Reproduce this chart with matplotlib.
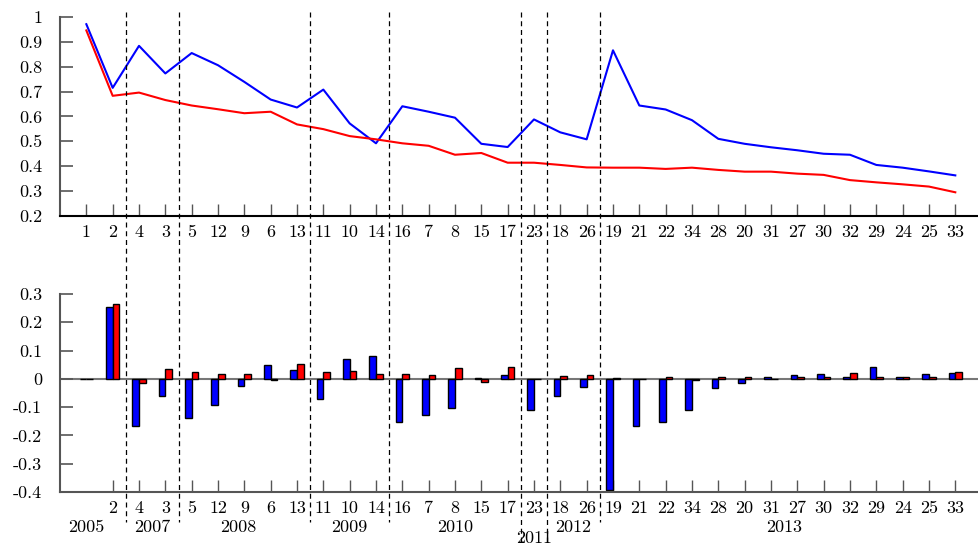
import matplotlib
matplotlib.use('Agg')
import matplotlib.pyplot as plt
import matplotlib.transforms as mtransforms
from matplotlib.lines import Line2D
import numpy as np

plt.rcParams['font.family'] = ['cmr10', 'DejaVu Serif']
plt.rcParams['axes.unicode_minus'] = False
plt.rcParams['axes.formatter.use_mathtext'] = True

# categories along the x axis
cats = ['1', '2', '4', '3', '5', '12', '9', '6', '13', '11', '10', '14', '16', '7', '8',
        '15', '17', '23', '18', '26', '19', '21', '22', '34', '28', '20', '31', '27',
        '30', '32', '29', '24', '25', '33']

# top panel lines
blue_line = [0.971, 0.715, 0.884, 0.773, 0.855, 0.806, 0.739, 0.668, 0.636, 0.708,
             0.572, 0.492, 0.641, 0.619, 0.595, 0.490, 0.477, 0.588, 0.536, 0.508,
             0.866, 0.644, 0.628, 0.585, 0.510, 0.490, 0.476, 0.464, 0.450, 0.446,
             0.405, 0.394, 0.379, 0.363]
red_line = [0.946, 0.683, 0.696, 0.666, 0.644, 0.629, 0.613, 0.619, 0.568, 0.549,
            0.521, 0.508, 0.492, 0.482, 0.446, 0.453, 0.414, 0.414, 0.405, 0.395,
            0.394, 0.394, 0.389, 0.394, 0.385, 0.378, 0.378, 0.370, 0.365, 0.344,
            0.335, 0.327, 0.318, 0.295]

# bottom panel bars
blue_bar = [0.0, 0.253, -0.168, -0.059, -0.140, -0.094, -0.024, 0.049, 0.033, -0.072,
            0.069, 0.080, -0.153, -0.129, -0.104, 0.002, 0.014, -0.111, -0.061, -0.029,
            -0.393, -0.168, -0.154, -0.111, -0.034, -0.015, 0.005, 0.012, 0.016, 0.006,
            0.041, 0.008, 0.016, 0.019]
red_bar = [0.0, 0.264, -0.015, 0.034, 0.024, 0.016, 0.016, -0.005, 0.051, 0.024,
           0.027, 0.016, 0.016, 0.013, 0.038, -0.012, 0.041, -0.002, 0.009, 0.013,
           0.002, 0.001, 0.005, -0.004, 0.008, 0.008, 0.001, 0.008, 0.008, 0.019,
           0.008, 0.008, 0.008, 0.026]

# year groups
years = ['2005', '2007', '2008', '2009', '2010', '2011', '2012', '2013']
year_pos = [0, 2.5, 5.75, 10, 14, 17, 18.5, 26.5]
year_low = [False, False, False, False, False, True, False, False]
separators = [1.5, 3.5, 8.5, 11.5, 16.5, 17.5, 19.5]
long_sep = [False, False, False, False, True, True, False]

x = np.arange(len(cats))

fig = plt.figure(figsize=(9.79, 5.48), dpi=100)
ax1 = fig.add_axes([0.0613, 0.606, 0.9387, 0.363])
ax2 = fig.add_axes([0.0613, 0.1022, 0.9387, 0.3613])

spine_col = '#555555'
fs = 13

# top panel
ax1.plot(x, blue_line, color='#0000ff', lw=1.5)
ax1.plot(x, red_line, color='#ff0000', lw=1.5)
ax1.set_xlim(-1, 33.9)
ax1.set_ylim(0.2, 1.0)
ax1.set_yticks(np.arange(0.2, 1.01, 0.1))
ax1.set_yticklabels(['0.2', '0.3', '0.4', '0.5', '0.6', '0.7', '0.8', '0.9', '1'])
ax1.set_xticks(x)
ax1.set_xticklabels(cats)

# bottom panel
w = 0.25
ax2.axhline(0, color='#777777', lw=1.5, zorder=1)
ax2.bar(x - w / 2, blue_bar, width=w, color='#0000ff', edgecolor='black', lw=1.0, zorder=2)
ax2.bar(x + w / 2, red_bar, width=w, color='#ff0000', edgecolor='black', lw=1.0, zorder=2)
ax2.set_xlim(-1, 33.9)
ax2.set_ylim(-0.4, 0.3)
ax2.set_yticks(np.arange(-0.4, 0.31, 0.1))
ax2.set_yticklabels(['-0.4', '-0.3', '-0.2', '-0.1', '0', '0.1', '0.2', '0.3'])
ax2.set_xticks(x[1:])
ax2.set_xticklabels(cats[1:])

for ax in (ax1, ax2):
    for s in ('top', 'right'):
        ax.spines[s].set_visible(False)
    ax.spines['left'].set_color(spine_col)
    ax.spines['left'].set_linewidth(1.5)
    ax.spines['bottom'].set_linewidth(1.5)
    ax.tick_params(axis='y', direction='in', length=9, width=1.2, color=spine_col,
                   labelsize=fs, pad=13)
    ax.tick_params(axis='x', direction='in', length=9, width=1.0, color=spine_col,
                   labelsize=fs, pad=6)
ax1.spines['bottom'].set_color('black')
ax2.spines['bottom'].set_color(spine_col)

# year labels under the bottom panel
trans_y = mtransforms.blended_transform_factory(ax2.transData, fig.transFigure)
for yr, p, low in zip(years, year_pos, year_low):
    ax2.text(p, 0.018 if low else 0.037, yr, transform=trans_y, ha='center', va='center',
             fontsize=fs)

# dashed separators across both panels
for s, lg in zip(separators, long_sep):
    fig.add_artist(Line2D([s, s], [0.978, 0.01 if lg else 0.048], transform=trans_y,
                          color='black', lw=0.9, ls=(0, (4, 3))))

fig.savefig('out.png', dpi=100)
